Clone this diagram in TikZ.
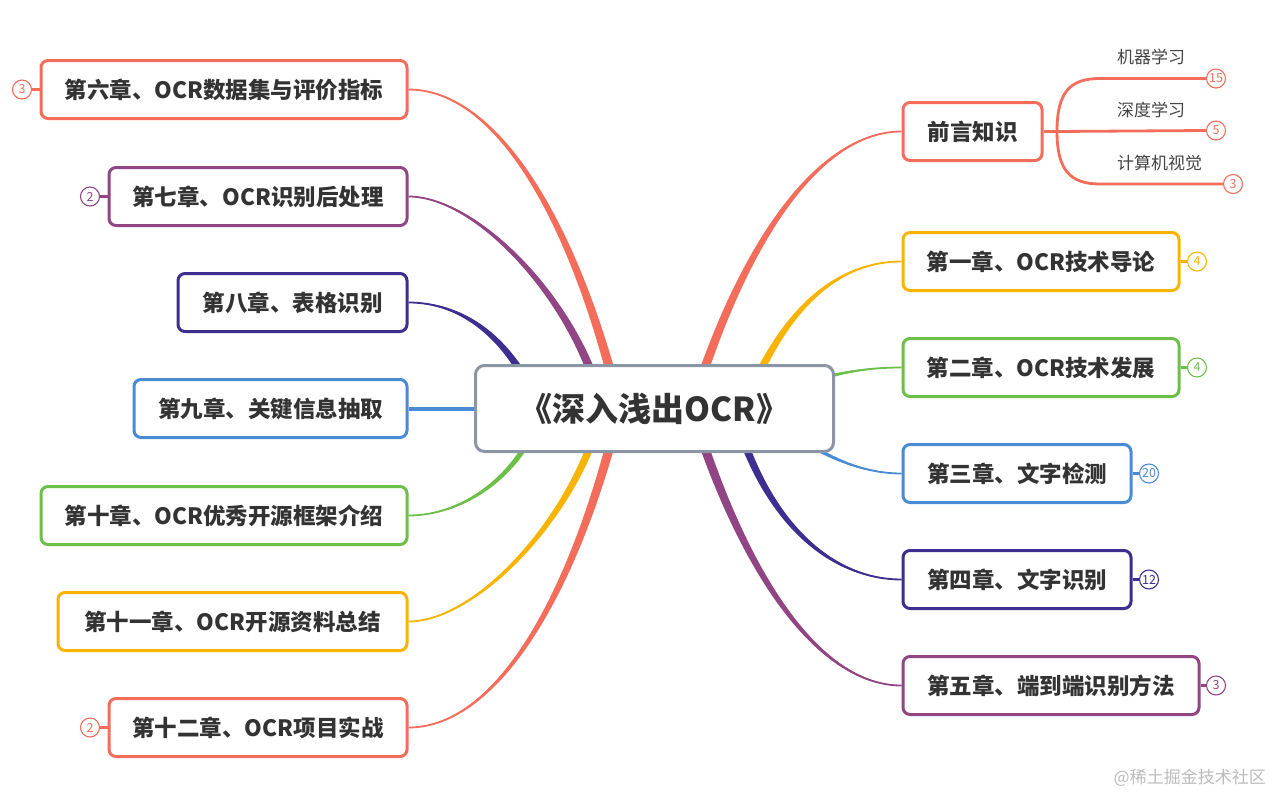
\documentclass[tikz,border=0pt]{standalone}
\usepackage{fontspec}
\setmainfont{Noto Sans CJK SC}
\usetikzlibrary{calc,backgrounds}
\definecolor{salmon}{HTML}{F46D5B}
\definecolor{yel}{HTML}{F8B400}
\definecolor{grn}{HTML}{6CC04A}
\definecolor{blu}{HTML}{4A8BD6}
\definecolor{ind}{HTML}{3D2F8F}
\definecolor{pur}{HTML}{924584}
\definecolor{grayb}{HTML}{8A96A6}
\definecolor{txt}{HTML}{333333}
\definecolor{subtxt}{HTML}{444444}
\definecolor{wm}{HTML}{BBBBBB}
% colour, start, control 1, control 2, end, half width at start
\newcommand\drawbranch[6]{%
  \fill[#1] ($(#2)!#6pt!90:(#3)$)
     .. controls ($(#3)!0.8*#6pt!90:(#4)$) and ($(#4)!0.35*#6pt!90:(#5)$) .. (#5)
     .. controls ($(#4)!0.35*#6pt!-90:(#5)$) and ($(#3)!0.8*#6pt!-90:(#4)$) .. ($(#2)!#6pt!-90:(#3)$) -- cycle;
  \draw[#1,line width=1.8pt] (#2) .. controls (#3) and (#4) .. (#5);
}
\begin{document}
\begin{tikzpicture}[x=1pt,y=-1pt,
  chap/.style={draw=#1, line width=3pt, rounded corners=7pt, fill=white,
    minimum height=58pt, inner sep=0pt, text=txt,
    font=\bfseries\fontsize{22.5pt}{25pt}\selectfont},
  badge/.style={circle, draw=#1, line width=1.1pt, fill=white, minimum size=19pt,
    inner sep=0pt, text=#1, font=\fontsize{12.5pt}{13pt}\selectfont},
  subitem/.style={anchor=west, inner sep=0pt, text=subtxt, font=\fontsize{17pt}{19pt}\selectfont},
  link/.style={draw=#1, line width=2.5pt}
]
\useasboundingbox (0,0) rectangle (1273,795);
% right nodes
\node[chap=salmon, anchor=west, minimum width=139pt] (r0) at (901.5,131.5) {前言知识};
\node[chap=yel, anchor=west, minimum width=276pt] (r1) at (901.5,261.5) {第一章、OCR技术导论};
\node[chap=grn, anchor=west, minimum width=276pt] (r2) at (901.5,367.5) {第二章、OCR技术发展};
\node[chap=blu, anchor=west, minimum width=228pt] (r3) at (901.5,473.5) {第三章、文字检测};
\node[chap=ind, anchor=west, minimum width=228pt] (r4) at (901.5,579.5) {第四章、文字识别};
\node[chap=pur, anchor=west, minimum width=296pt] (r5) at (901.5,685.5) {第五章、端到端识别方法};
% left nodes
\node[chap=salmon, anchor=east, minimum width=366pt] (l6) at (408.5,89.5) {第六章、OCR数据集与评价指标};
\node[chap=pur, anchor=east, minimum width=298pt] (l7) at (408.5,196.5) {第七章、OCR识别后处理};
\node[chap=ind, anchor=east, minimum width=229pt] (l8) at (408.5,302.5) {第八章、表格识别};
\node[chap=blu, anchor=east, minimum width=273pt] (l9) at (408.5,408.5) {第九章、关键信息抽取};
\node[chap=grn, anchor=east, minimum width=366pt] (l10) at (408.5,515.5) {第十章、OCR优秀开源框架介绍};
\node[chap=yel, anchor=east, minimum width=349pt] (l11) at (408.5,621.5) {第十一章、OCR开源资料总结};
\node[chap=salmon, anchor=east, minimum width=298pt] (l12) at (408.5,727.5) {第十二章、OCR项目实战};
% central node
\node[draw=grayb, line width=3pt, rounded corners=9pt, fill=white, minimum width=358pt,
  minimum height=86pt, inner sep=0pt, text=txt, font=\bfseries\fontsize{33pt}{36pt}\selectfont]
  (c) at (654.5,408.5) {《深入浅出OCR》};
% start points of the branches (hidden under the central node)
\coordinate (sR0) at (685,430);
\coordinate (sR1) at (740,420);
\coordinate (sR2) at (780,395);
\coordinate (sR3) at (780,425);
\coordinate (sR4) at (730,396);
\coordinate (sR5) at (685,386);
\coordinate (sL6) at (625,430);
\coordinate (sL7) at (605,420);
\coordinate (sL8) at (540,410);
\coordinate (sL9) at (520,408.5);
\coordinate (sL10) at (545,405);
\coordinate (sL11) at (605,396);
\coordinate (sL12) at (625,386);
% branches
\begin{pgfonlayer}{background}
\drawbranch{salmon}{sR0}{740,240}{820,131.5}{r0.west}{5}
\drawbranch{yel}{sR1}{775,320}{830,261.5}{r1.west}{4.5}
\drawbranch{grn}{sR2}{820,375}{860,367.5}{r2.west}{2.5}
\drawbranch{blu}{sR3}{820,455}{860,473.5}{r3.west}{2.5}
\drawbranch{ind}{sR4}{760,520}{830,579.5}{r4.west}{4.5}
\drawbranch{pur}{sR5}{740,576}{820,685.5}{r5.west}{5}
\drawbranch{salmon}{sL6}{580,230}{500,89.5}{l6.east}{5}
\drawbranch{pur}{sL7}{585,310}{480,196.5}{l7.east}{5}
\drawbranch{ind}{sL8}{510,335}{460,302.5}{l8.east}{4.5}
\draw[blu, line width=4pt] (sL9) -- (l9.east);
\drawbranch{grn}{sL10}{520,480}{460,515.5}{l10.east}{3.5}
\drawbranch{yel}{sL11}{585,506}{480,621.5}{l11.east}{4.5}
\drawbranch{salmon}{sL12}{580,586}{500,727.5}{l12.east}{5}
\end{pgfonlayer}
% badges
\node[badge=salmon] (b6) at (22,89.5) {3};
\node[badge=pur] (b7) at (90,196.5) {2};
\node[badge=salmon] (b12) at (90,727.5) {2};
\node[badge=yel] (b1) at (1197,261.5) {4};
\node[badge=grn] (b2) at (1197,367.5) {4};
\node[badge=blu] (b3) at (1149,473.5) {20};
\node[badge=ind] (b4) at (1149,579.5) {12};
\node[badge=pur] (b5) at (1216,685.5) {3};
\draw[link=salmon] (l6.west) -- (b6.east);
\draw[link=pur] (l7.west) -- (b7.east);
\draw[link=salmon] (l12.west) -- (b12.east);
\draw[link=yel] (r1.east) -- (b1.west);
\draw[link=grn] (r2.east) -- (b2.west);
\draw[link=blu] (r3.east) -- (b3.west);
\draw[link=ind] (r4.east) -- (b4.west);
\draw[link=pur] (r5.east) -- (b5.west);
% sub items of 前言知识
\node[subitem] (k1) at (1117,57) {机器学习};
\node[subitem] (k2) at (1117,110) {深度学习};
\node[subitem] (k3) at (1117,163) {计算机视觉};
\node[badge=salmon] (n1) at (1216,78.5) {15};
\node[badge=salmon] (n2) at (1216,130.5) {5};
\node[badge=salmon] (n3) at (1233,184) {3};
\coordinate (fork) at (1057,131.5);
\begin{pgfonlayer}{background}
\draw[link=salmon, line width=2.8pt] (r0.east) -- (fork);
\draw[link=salmon, line width=2.8pt] (fork) .. controls (1057,92) and (1070,78.5) .. (1100,78.5) -- (n1.west);
\draw[link=salmon, line width=2.8pt] (fork) -- (n2.west);
\draw[link=salmon, line width=2.8pt] (fork) .. controls (1057,170) and (1070,184) .. (1100,184) -- (n3.west);
\end{pgfonlayer}
% watermark
\node[anchor=east, inner sep=0pt, text=wm, font=\fontsize{17pt}{18pt}\selectfont] (w) at (1266,778) {@稀土掘金技术社区};
\end{tikzpicture}
\end{document}
